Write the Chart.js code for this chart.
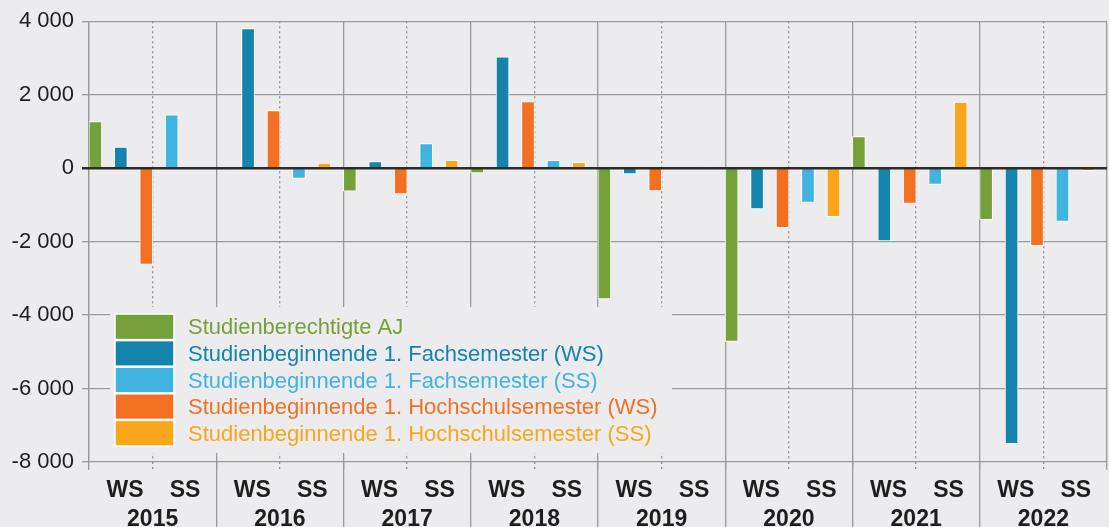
<!DOCTYPE html>
<html lang="de">
<head>
<meta charset="utf-8">
<title>Studienberechtigte und Studienbeginnende – Veränderung</title>
<script src="https://cdn.jsdelivr.net/npm/chart.js@4.4.1/dist/chart.umd.min.js"></script>
<style>
  html, body { margin: 0; padding: 0; background: #ececee; }
  #wrap { width: 1109px; height: 527px; }
</style>
</head>
<body>
<div id="wrap"><canvas id="chartCanvas"></canvas></div>
<script>
const years = ['2015', '2016', '2017', '2018', '2019', '2020', '2021', '2022'];
const semesters = ['WS', 'SS'];
const yTicks = [-8000, -6000, -4000, -2000, 0, 2000, 4000];

const berechtigteAJ = [1270, -20, -630, -130, -3560, -4720, 860, -1400];
const fachWS = [570, 3800, 180, 3030, -160, -1110, -1980, -7500];
const fachSS = [1450, -280, 670, 210, -10, -930, -440, -1450];
const hochWS = [-2620, 1570, -700, 1810, -620, -1620, -960, -2110];
const hochSS = [20, 140, 210, 160, 30, -1320, 1800, -70];

const gridColor = '#9b9b9b';
const textColor = '#1e1e1e';
const fontFamily = '"Liberation Sans", Arial, sans-serif';

// where each series sits inside its year (fraction of the year width)
function series(label, values, color, slot) {
  return {
    label: label,
    data: values.map((v, i) => ({ x: i + slot, y: v })),
    backgroundColor: color,
    borderColor: '#ffffff',
    borderWidth: 1,
    barThickness: 13,
    grouped: false,
  };
}

const fmt = v => (v < 0 ? '-' : '') + String(Math.abs(v)).replace(/\B(?=(\d{3})+(?!\d))/g, ' ');

// zero line goes on top of the bars
const zeroLine = {
  id: 'zeroLine',
  afterDatasetsDraw(chart) {
    const { ctx, chartArea, scales } = chart;
    const py = scales.y.getPixelForValue(0);
    ctx.save();
    ctx.strokeStyle = '#2b2b2b';
    ctx.lineWidth = 2.5;
    ctx.beginPath();
    ctx.moveTo(chartArea.left - 7, py);
    ctx.lineTo(chartArea.right, py);
    ctx.stroke();
    ctx.restore();
  }
};

// legend box in the lower left of the plot, it hides the grid behind it
const boxLegend = {
  id: 'boxLegend',
  afterDraw(chart) {
    const { ctx, chartArea } = chart;
    const left = chartArea.left;
    const bottom = chartArea.bottom;
    ctx.save();
    ctx.fillStyle = '#ececee';
    ctx.fillRect(left + 21, bottom - 155, 562, 146);
    const top = bottom - 148;
    const pitch = 26.6;
    ctx.font = '22px ' + fontFamily;
    ctx.textBaseline = 'middle';
    chart.data.datasets.forEach((ds, i) => {
      const y = top + i * pitch;
      ctx.fillStyle = ds.backgroundColor;
      ctx.fillRect(left + 26, y, 59, pitch - 1);
      ctx.strokeStyle = '#ffffff';
      ctx.lineWidth = 1.5;
      ctx.strokeRect(left + 26, y, 59, pitch - 1);
      ctx.fillText(ds.label, left + 99, y + pitch / 2 + 1);
    });
    ctx.restore();
  }
};

const noTicks = { display: false };

new Chart(document.getElementById('chartCanvas'), {
  type: 'bar',
  data: {
    datasets: [
      series('Studienberechtigte AJ', berechtigteAJ, '#76a03a', 0.05),
      series('Studienbeginnende 1. Fachsemester (WS)', fachWS, '#1484ad', 0.25),
      series('Studienbeginnende 1. Fachsemester (SS)', fachSS, '#40b4e0', 0.65),
      series('Studienbeginnende 1. Hochschulsemester (WS)', hochWS, '#f37022', 0.45),
      series('Studienbeginnende 1. Hochschulsemester (SS)', hochSS, '#f9a61c', 0.85),
    ]
  },
  options: {
    responsive: true,
    maintainAspectRatio: false,
    animation: false,
    layout: { padding: { top: 21, right: 2, left: 0, bottom: 0 } },
    plugins: {
      legend: { display: false },
      tooltip: { enabled: false },
    },
    scales: {
      y: {
        min: -8000,
        max: 4000,
        afterBuildTicks: s => { s.ticks = yTicks.map(v => ({ value: v })); },
        ticks: {
          callback: v => fmt(v),
          font: { family: fontFamily, size: 22 },
          color: textColor,
          padding: 8,
        },
        grid: { color: gridColor, lineWidth: 1.3, tickLength: 7 },
        border: { display: true, color: gridColor, width: 1.3 },
        afterFit: s => { s.width = 89; },
      },
      x: {
        type: 'linear', position: 'bottom', weight: 0,
        min: 0, max: years.length, offset: false,
        ticks: { display: false, stepSize: 1 },
        grid: { offset: false, color: gridColor, lineWidth: 1.3, tickLength: 8 },
        border: { display: false },
        afterFit: s => { s.height = 0; },
      },
      xl: {
        type: 'linear', position: 'bottom', weight: 1,
        min: 0, max: years.length, offset: false,
        afterBuildTicks: s => { s.ticks = years.slice(1).map((_, i) => ({ value: i + 1 })); },
        ticks: noTicks,
        grid: { offset: false, drawOnChartArea: false, tickLength: 65, tickColor: gridColor, lineWidth: 1.3 },
        border: { display: false },
        afterFit: s => { s.height = 0; },
      },
      xd: {
        type: 'linear', position: 'bottom', weight: 2,
        min: 0, max: years.length, offset: false,
        afterBuildTicks: s => { s.ticks = years.map((_, i) => ({ value: i + 0.5 })); },
        ticks: noTicks,
        grid: { offset: false, color: '#8f8f8f', lineWidth: 1.3, tickLength: 8, tickBorderDash: [2, 3] },
        border: { display: false, dash: [2, 3] },
        afterFit: s => { s.height = 0; },
      },
      xs: {
        type: 'linear', position: 'bottom', weight: 3,
        min: 0, max: years.length, offset: false,
        afterBuildTicks: s => {
          const pos = [0.283, 0.755];
          s.ticks = [];
          years.forEach((_, i) => pos.forEach(p => s.ticks.push({ value: i + p })));
        },
        ticks: {
          callback: (v, idx) => semesters[idx % 2],
          font: { family: fontFamily, size: 23, weight: 'bold' },
          color: textColor, padding: 15, autoSkip: false, maxRotation: 0,
        },
        grid: { display: false, drawTicks: false },
        border: { display: false },
        afterFit: s => { s.height = 40; },
      },
      xy: {
        type: 'linear', position: 'bottom', weight: 4,
        min: 0, max: years.length, offset: false,
        afterBuildTicks: s => { s.ticks = years.map((_, i) => ({ value: i + 0.5 })); },
        ticks: {
          callback: (v, idx) => years[idx],
          font: { family: fontFamily, size: 23, weight: 'bold' },
          color: textColor, padding: 4, autoSkip: false, maxRotation: 0,
        },
        grid: { display: false, drawTicks: false },
        border: { display: false },
        afterFit: s => { s.height = 25; },
      },
    }
  },
  plugins: [zeroLine, boxLegend]
});
</script>
</body>
</html>
